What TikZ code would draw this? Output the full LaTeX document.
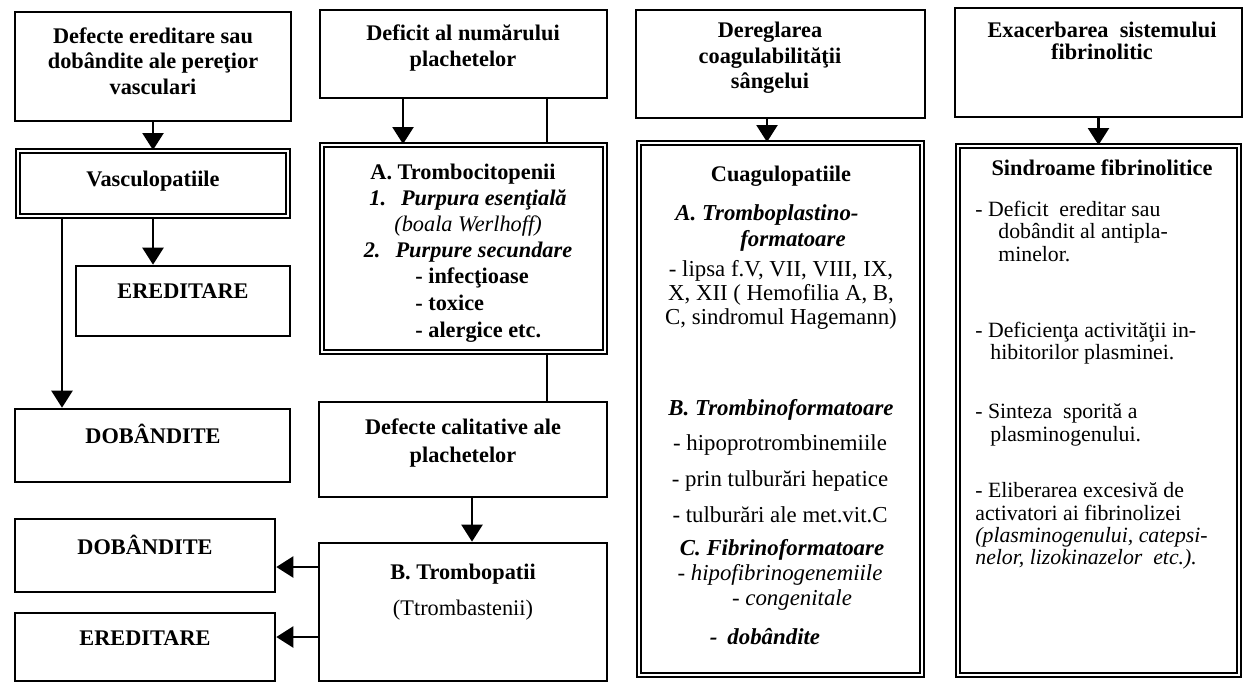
\documentclass[tikz,border=0pt]{standalone}
\usepackage{fontspec}
\setmainfont{Liberation Serif}
\usetikzlibrary{arrows.meta, fit, positioning}

\begin{document}
\begin{tikzpicture}[x=0.02cm, y=-0.02cm,
    box/.style={draw, line width=1.5pt, inner sep=0pt},
    dbox/.style={draw, double, double distance=1.6pt, line width=1.1pt, inner sep=0pt},
    arr/.style={line width=1.3pt, -{Triangle[length=0.34cm, width=0.42cm]}},
    link/.style={line width=1.3pt},
    hdtext/.style={font=\fontsize{12.7}{14.4}\selectfont\bfseries, align=center, inner sep=0pt},
    bodytext/.style={font=\fontsize{12.7}{15}\selectfont, align=center, inner sep=0pt},
    bitext/.style={font=\fontsize{13}{14.4}\selectfont\bfseries\itshape, align=center, inner sep=0pt},
    ittext/.style={font=\fontsize{13}{14.4}\selectfont\itshape, align=center, inner sep=0pt},
    smalltext/.style={font=\fontsize{12.4}{12.8}\selectfont, align=left, anchor=west, inner sep=0pt}]
  \useasboundingbox (0,0) rectangle (1253,683);

  % vasculopatii
  \node[box, fit={(15,12) (291,121)}] (defv) {};
  \node[hdtext] (defvt) at (153,61) {Defecte ereditare sau\\dobândite ale pereţior\\vasculari};
  \node[dbox, fit={(18,151) (288,216)}] (vasc) {};
  \node[hdtext] (vasct) at (153,181) {Vasculopatiile};
  \node[box, fit={(76,266) (290,336)}] (ered1) {};
  \node[hdtext] (ered1t) at (183,291) {EREDITARE};
  \node[box, fit={(15,409) (290,482)}] (dob1) {};
  \node[hdtext] (dob1t) at (153,434) {DOBÂNDITE};
  \node[box, fit={(15,519) (275,592)}] (dob2) {};
  \node[hdtext] (dob2t) at (145,545) {DOBÂNDITE};
  \node[box, fit={(15,613) (275,681)}] (ered2) {};
  \node[hdtext] (ered2t) at (145,638) {EREDITARE};

  % plachete
  \node[box, fit={(320,10) (607,98)}] (defn) {};
  \node[hdtext] (defnt) at (463,48) {Deficit al numărului\\plachetelor};
  \node[dbox, fit={(322,145) (605,352)}] (tromb) {};
  \node[hdtext] (trombt) at (463,174) {A. Trombocitopenii};
  \node[bitext, font=\fontsize{12.7}{15}\selectfont\bfseries\itshape] (purp) at (468,226)
    {1.\hspace{0.3cm}Purpura esenţială\\\textmd{(boala Werlhoff)}\\2.\hspace{0.3cm}Purpure secundare};
  \node[hdtext, align=left, anchor=west, font=\fontsize{12.7}{15.4}\selectfont\bfseries] (secund) at (415,305)
    {- infecţioase\\- toxice\\- alergice etc.};
  \node[box, fit={(319,402) (607,497)}] (defc) {};
  \node[hdtext, font=\fontsize{12.7}{16}\selectfont\bfseries] (defct) at (463,443) {Defecte calitative ale\\plachetelor};
  \node[box, fit={(319,543) (607,681)}] (tropat) {};
  \node[hdtext] (tropatt) at (463,574) {B. Trombopatii};
  \node[bodytext] (trombast) at (463,610) {(Ttrombastenii)};

  % coagulare
  \node[box, fit={(636,10) (925,118)}] (dereg) {};
  \node[hdtext] (deregt) at (770,58) {Dereglarea\\coagulabilităţii\\sângelui};
  \node[dbox, fit={(639,143) (922,675)}] (cuag) {};
  \node[hdtext] (cuagt) at (781,176) {Cuagulopatiile};
  \node[bitext, align=left, anchor=west] (tplast) at (675,228) {A. Tromboplastino-\\\hspace*{1.3cm}formatoare};
  \node[bodytext, font=\fontsize{13}{13.7}\selectfont] (lipsa) at (781,295)
    {- lipsa f.V, VII, VIII, IX,\\X, XII ( Hemofilia A, B,\\C, sindromul Hagemann)};
  \node[bitext] (tbin) at (781,410) {B. Trombinoformatoare};
  \node[bodytext, font=\fontsize{13}{20.5}\selectfont] (hipo) at (780,479)
    {- hipoprotrombinemiile\\- prin tulburări hepatice\\- tulburări ale met.vit.C};
  \node[bitext] (fbin) at (782,550) {C. Fibrinoformatoare};
  \node[ittext] (hfib) at (780,575) {- hipofibrinogenemiile};
  \node[ittext] (cong) at (792,600) {- congenitale};
  \node[bitext] (dobi) at (765,637) {-\hspace{0.2cm}dobândite};

  % fibrinoliza
  \node[box, fit={(955,8) (1242,117)}] (exac) {};
  \node[hdtext, font=\fontsize{12.7}{12.6}\selectfont\bfseries] (exact) at (1102,41) {Exacerbarea\ \ sistemului\\fibrinolitic};
  \node[dbox, fit={(958,146) (1239,675)}] (sindr) {};
  \node[hdtext] (sindrt) at (1102,168) {Sindroame fibrinolitice};
  \node[smalltext] (par1) at (975,231) {- Deficit\ \ ereditar sau\\\hspace*{0.46cm}dobândit al antipla-\\\hspace*{0.46cm}minelor.};
  \node[smalltext] (par2) at (975,343) {- Deficienţa activităţii in-\\\hspace*{0.3cm}hibitorilor plasminei.};
  \node[smalltext] (par3) at (975,425) {- Sinteza\ \ sporită a\\\hspace*{0.3cm}plasminogenului.};
  \node[smalltext] (par4) at (975,526) {- Eliberarea excesivă de\\activatori ai fibrinolizei\\\textit{(plasminogenului, catepsi-}\\\textit{nelor, lizokinazelor\ \ etc.).}};

  % legaturi
  \coordinate (xa) at (62,0);
  \coordinate (xb) at (153,0);
  \coordinate (xc) at (403,0);
  \coordinate (xd) at (547,0);
  \coordinate (xe) at (472,0);
  \coordinate (xf) at (767,0);
  \coordinate (ya) at (0,567);
  \coordinate (yb) at (0,637);
  \draw[arr] (defv.south) -- (vasc.north);
  \draw[arr] (vasc.south -| xb) -- (ered1.north -| xb);
  \draw[arr] (vasc.south -| xa) -- (dob1.north -| xa);
  \draw[arr] (defn.south -| xc) -- (tromb.north -| xc);
  \draw[link] (defn.south -| xd) -- (tromb.north -| xd);
  \draw[link] (tromb.south -| xd) -- (defc.north -| xd);
  \draw[arr] (defc.south -| xe) -- (tropat.north -| xe);
  \draw[arr] (tropat.west |- ya) -- (dob2.east |- ya);
  \draw[arr] (tropat.west |- yb) -- (ered2.east |- yb);
  \draw[arr] (dereg.south -| xf) -- (cuag.north -| xf);
  \draw[arr] (exac.south) -- (sindr.north);
\end{tikzpicture}
\end{document}
